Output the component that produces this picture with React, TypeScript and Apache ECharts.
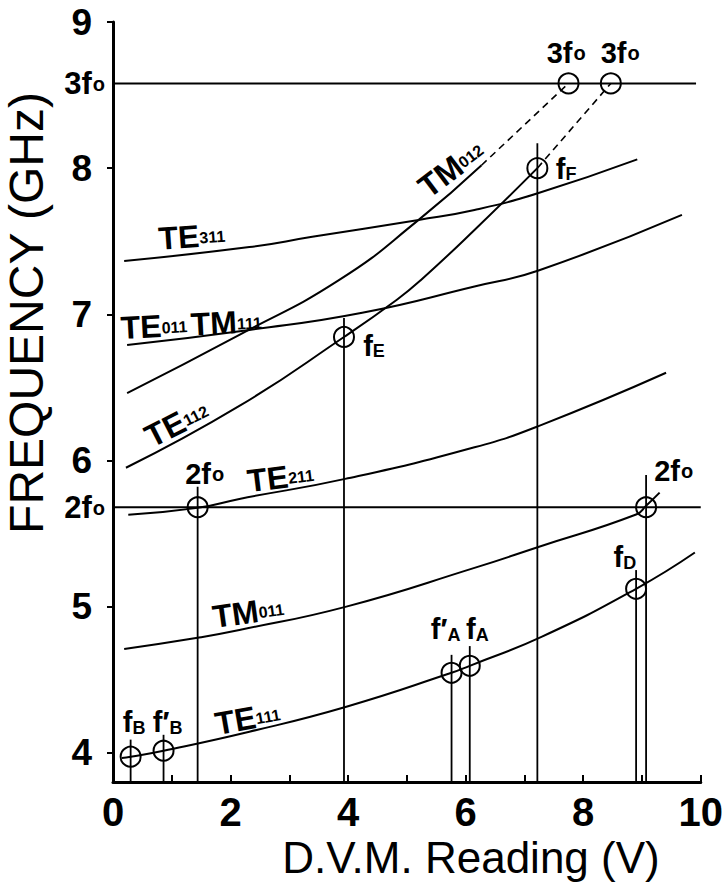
import React, { useEffect, useRef } from "react";
import * as echarts from "echarts";

// Harmonic reference levels (GHz)
const F2 = 5.68; // 2f0
const F3 = 8.58; // 3f0

const yTickValues = [4, 5, 6, 7, 8, 9];
const yLabelValues = [4, 5, 6, 7, 8, 9, F2, F3];

// Mode curves: [D.V.M. reading (V), frequency (GHz)]
const TE111 = [[0.15, 3.965], [0.3, 3.973], [0.86, 4.014], [2.32, 4.144], [3.97, 4.315], [5.76, 4.547], [6.07, 4.595], [7.29, 4.793], [8.9, 5.122], [9.9, 5.37]];
const TM011 = [[0.19, 4.71], [1.44, 4.787], [2.15, 4.84], [3.97, 5.0], [6.15, 5.265], [7.25, 5.41], [8.9, 5.63], [9.07, 5.69], [9.3, 5.78]];
const TE211 = [[0.26, 5.628], [1.44, 5.676], [2.15, 5.737], [3.95, 5.874], [6.15, 6.09], [7.25, 6.237], [9.41, 6.6]];
const TE112 = [[0.22, 5.95], [2.15, 6.373], [3.93, 6.845], [4.83, 7.1], [5.24, 7.235], [6.15, 7.577], [7.22, 8.0]];
const TE112ext = [[7.22, 8.0], [8.47, 8.58]];
const TM012 = [[0.24, 6.46], [2.15, 6.86], [3.85, 7.235], [5.2, 7.646], [6.27, 8.02]];
const TM012ext = [[6.27, 8.02], [7.75, 8.58]];
const TE011 = [[0.24, 6.79], [2.32, 6.893], [4.24, 7.01], [6.15, 7.19], [7.24, 7.3], [9.68, 7.68]];
const TE311 = [[0.19, 7.365], [2.32, 7.46], [3.39, 7.53], [5.2, 7.646], [6.15, 7.714], [7.24, 7.83], [8.92, 8.06]];

// Measured points (circles)
const pointNames = ["fB", "fB'", "2f0", "fE", "fA'", "fA", "fF", "3f0", "3f0", "fD", "2f0"];
const pointX = [0.3, 0.86, 1.44, 3.93, 5.76, 6.07, 7.22, 7.75, 8.47, 8.9, 9.07];
const pointY = [3.973, 4.014, F2, 6.845, 4.547, 4.595, 8.0, F3, F3, 5.122, F2];
// top of vertical drop line (null = no drop line)
const dropTop = [4.09, 4.123, 5.82, 6.975, 4.67, 4.73, 8.17, null, null, 5.25, 5.9];

// Mode labels
const modeText = ["{a|TE}{b|311}", "{a|TE}{b|011} {a|TM}{b|111}", "{a|TE}{b|112}", "{a|TM}{b|012}", "{a|TE}{b|211}", "{a|TM}{b|011}", "{a|TE}{b|111}"];
const modeX = [1.34, 1.33, 1.08, 5.75, 2.85, 2.3, 2.29];
const modeY = [7.536, 6.934, 6.257, 8.0, 5.888, 4.965, 4.239];
const modeRot = [4, 3, 27, 37, 7, 8, 10];

// Point labels
const ptText = ["{f|f}{s|B}", "{f|f′}{s|B}", "{f|2f}{o|o}", "{f|f}{s|E}", "{f|f′}{s|A}", "{f|f}{s|A}", "{f|f}{s|F}", "{f|3f}{o|o}", "{f|3f}{o|o}", "{f|f}{s|D}", "{f|2f}{o|o}"];
const ptX = [0.36, 0.93, 1.56, 4.44, 5.66, 6.2, 7.71, 7.71, 8.63, 8.71, 9.54];
const ptY = [4.212, 4.212, 5.908, 6.79, 4.848, 4.848, 8.0, 8.788, 8.788, 5.34, 5.929];

const FONT = "Liberation Sans";
const K = "#000";

export default function App() {
  const ref = useRef<HTMLDivElement>(null);
  useEffect(() => {
    document.body.style.margin = "0";
    const chart = echarts.init(ref.current!, null, { renderer: "svg" });

    const curve = (name: string, data: number[][], dashed = false) => ({
      name,
      type: "line",
      data,
      smooth: dashed ? false : 0.5,
      symbol: "none",
      silent: true,
      lineStyle: { color: K, width: dashed ? 1.6 : 2, type: dashed ? [7, 5] : "solid", opacity: 1 },
      z: 3,
    });

    const series: any[] = [
      curve("TE111", TE111),
      curve("TM011", TM011),
      curve("TE211", TE211),
      curve("TE112", TE112),
      curve("TE112 ext", TE112ext, true),
      curve("TM012", TM012),
      curve("TM012 ext", TM012ext, true),
      curve("TE011/TM111", TE011),
      curve("TE311", TE311),
      {
        type: "line", data: [[0, F2], [10, F2]], symbol: "none", silent: true,
        lineStyle: { color: K, width: 2 }, z: 2,
      },
      {
        type: "line", data: [[0, F3], [9.92, F3]], symbol: "none", silent: true,
        lineStyle: { color: K, width: 2 }, z: 2,
      },
    ];
    pointX.forEach((x, i) => {
      if (dropTop[i] == null) return;
      series.push({
        type: "line", data: [[x, 3.8], [x, dropTop[i]]], symbol: "none", silent: true,
        lineStyle: { color: K, width: 1.8 }, z: 2,
      });
    });
    series.push({
      type: "scatter",
      data: pointX.map((x, i) => ({ name: pointNames[i], value: [x, pointY[i]] })),
      symbol: "circle",
      symbolSize: 20,
      silent: true,
      itemStyle: { color: "rgba(0,0,0,0)", borderColor: K, borderWidth: 2, opacity: 1 },
      z: 4,
    });
    const labelBase = { show: true, position: "inside", color: K, textBorderWidth: 0, opacity: 1 };
    series.push({
      type: "scatter",
      data: modeText.map((t, i) => ({ value: [modeX[i], modeY[i]], txt: t, label: { rotate: modeRot[i] } })),
      symbolSize: 0,
      silent: true,
      itemStyle: { color: K, opacity: 1 },
      label: {
        ...labelBase,
        formatter: (p: any) => p.data.txt,
        rich: {
          a: { fontFamily: FONT, fontWeight: "bold", fontSize: 32, color: K, textBorderWidth: 0, verticalAlign: "bottom", lineHeight: 33 },
          b: { fontFamily: FONT, fontWeight: "bold", fontSize: 16, color: K, textBorderWidth: 0, verticalAlign: "bottom", lineHeight: 16, padding: [0, 0, 6, 0] },
        },
      },
      z: 5,
    });
    series.push({
      type: "scatter",
      data: ptText.map((t, i) => ({ value: [ptX[i], ptY[i]], txt: t })),
      symbolSize: 0,
      silent: true,
      itemStyle: { color: K, opacity: 1 },
      label: {
        ...labelBase,
        formatter: (p: any) => p.data.txt,
        rich: {
          f: { fontFamily: FONT, fontWeight: "bold", fontSize: 29, color: K, textBorderWidth: 0, verticalAlign: "bottom", lineHeight: 30 },
          s: { fontFamily: FONT, fontWeight: "bold", fontSize: 18, color: K, textBorderWidth: 0, verticalAlign: "bottom", lineHeight: 18 },
          o: { fontFamily: FONT, fontWeight: "bold", fontSize: 20, color: K, textBorderWidth: 0, verticalAlign: "bottom", lineHeight: 20, padding: [0, 0, 5, 1] },
        },
      },
      z: 5,
    });

    chart.setOption({
      animation: false,
      backgroundColor: "#fff",
      grid: { left: 113, right: 23, top: 22, bottom: 107, containLabel: false },
      xAxis: {
        type: "value", min: 0, max: 10, interval: 2,
        axisLine: { show: true, lineStyle: { color: K, width: 3 } },
        axisTick: { show: true, inside: true, length: 7, lineStyle: { color: K, width: 2 } },
        minorTick: { show: true, splitNumber: 2, length: 7, lineStyle: { color: K, width: 2 } },
        splitLine: { show: false },
        axisLabel: { color: K, fontFamily: FONT, fontWeight: "bold", fontSize: 40, margin: 10 },
      },
      yAxis: {
        type: "value", min: 3.8, max: 9,
        axisLine: { show: true, onZero: false, lineStyle: { color: K, width: 3 } },
        axisTick: { show: true, customValues: yTickValues, length: 6, lineStyle: { color: K, width: 2 } },
        splitLine: { show: false },
        axisLabel: {
          customValues: yLabelValues,
          margin: 8,
          color: K,
          formatter: (v: number) => {
            if (Math.abs(v - F2) < 1e-6) return "{f|2f}{o|o}";
            if (Math.abs(v - F3) < 1e-6) return "{f|3f}{o|o}";
            return "{n|" + v + "}";
          },
          rich: {
            n: { fontFamily: FONT, fontWeight: "bold", fontSize: 37, color: K, padding: [0, 13, 0, 0] },
            f: { fontFamily: FONT, fontWeight: "bold", fontSize: 31, color: K, verticalAlign: "bottom", lineHeight: 32 },
            o: { fontFamily: FONT, fontWeight: "bold", fontSize: 20, color: K, verticalAlign: "bottom", lineHeight: 20, padding: [0, 0, 5, 1] },
          },
        },
      },
      graphic: [
        {
          type: "text", x: 26, y: 313, rotation: Math.PI / 2,
          style: { text: "FREQUENCY (GHz)", fontFamily: FONT, fontSize: 48, fill: K, align: "center", verticalAlign: "middle" },
        },
        {
          type: "text", x: 471, y: 857,
          style: { text: "D.V.M. Reading (V)", fontFamily: FONT, fontSize: 44, fill: K, align: "center", verticalAlign: "middle" },
        },
      ],
      series,
    });
    return () => chart.dispose();
  }, []);
  return <div ref={ref} style={{ width: 726, height: 889 }} />;
}
